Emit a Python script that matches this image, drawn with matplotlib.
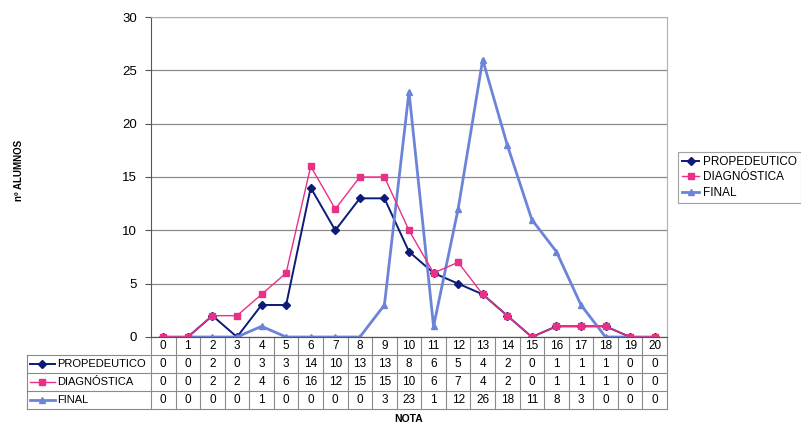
import numpy as np
import matplotlib
matplotlib.use('Agg')
import matplotlib.pyplot as plt
from matplotlib.lines import Line2D
from matplotlib.transforms import blended_transform_factory

plt.rcParams['font.family'] = ['Liberation Sans', 'DejaVu Sans']

notas = list(range(21))
propedeutico = [0, 0, 2, 0, 3, 3, 14, 10, 13, 13, 8, 6, 5, 4, 2, 0, 1, 1, 1, 0, 0]
diagnostica = [0, 0, 2, 2, 4, 6, 16, 12, 15, 15, 10, 6, 7, 4, 2, 0, 1, 1, 1, 0, 0]
final = [0, 0, 0, 0, 1, 0, 0, 0, 0, 3, 23, 1, 12, 26, 18, 11, 8, 3, 0, 0, 0]

series_names = ['PROPEDEUTICO', 'DIAGNÓSTICA', 'FINAL']
series_values = [propedeutico, diagnostica, final]
styles = [
    dict(color='#0c1a78', marker='D', markersize=4, linewidth=1.4),
    dict(color='#ec2f86', marker='s', markersize=5, linewidth=1.0),
    dict(color='#6c84d8', marker='^', markersize=4.5, linewidth=2.0),
]

fig = plt.figure(figsize=(8.01, 4.24), dpi=100)
ax = fig.add_axes([0.1885, 0.2052, 0.6442, 0.7547])

# lines, drawn so that pink sits over dark blue where they coincide
order = [0, 2, 1]
handles = {}
for k in order:
    h, = ax.plot(notas, series_values[k], label=series_names[k], **styles[k])
    handles[k] = h

ax.set_xlim(-0.5, 20.5)
ax.set_ylim(0, 30)
ax.set_yticks(range(0, 31, 5))
ax.set_xticks([])
ax.yaxis.grid(True, color='#8a8a8a', linewidth=0.9)
ax.set_axisbelow(True)
ax.tick_params(axis='y', labelsize=9.5, length=4, color='#555555', pad=6)
for side in ['top', 'right']:
    ax.spines[side].set_color('#b0b0b0')
    ax.spines[side].set_linewidth(0.8)
ax.spines['left'].set_color('#555555')
ax.spines['bottom'].set_color('#555555')

ax.set_ylabel('nº ALUMNOS', fontsize=7, fontweight='bold')
ax.yaxis.set_label_coords(-0.246, 0.52)

# data table below the axis
rh = 0.0565
tr = blended_transform_factory(ax.transData, ax.transAxes)
line_kw = dict(color='#8a8a8a', linewidth=0.8, clip_on=False)
label_left = -0.240

for j in range(5):
    y = -j * rh
    ax.plot([-0.5, 20.5], [y, y], transform=tr, **line_kw)
    if j >= 1:
        ax.plot([label_left, 0], [y, y], transform=ax.transAxes, **line_kw)
for i in range(22):
    ax.plot([i - 0.5, i - 0.5], [0, -4 * rh], transform=tr, **line_kw)
ax.plot([label_left, label_left], [-rh, -4 * rh], transform=ax.transAxes, **line_kw)

for i, n in enumerate(notas):
    ax.text(n, -0.5 * rh, str(n), transform=tr, ha='center', va='center', fontsize=8.5)
    for r, vals in enumerate(series_values):
        ax.text(n, -(r + 1.5) * rh, str(vals[i]), transform=tr,
                ha='center', va='center', fontsize=8.5)

for r, name in enumerate(series_names):
    yc = -(r + 1.5) * rh
    st = styles[r]
    ax.add_line(Line2D([-0.2345, -0.186], [yc, yc], transform=ax.transAxes,
                       color=st['color'], linewidth=st['linewidth'], clip_on=False))
    ax.add_line(Line2D([-0.2103], [yc], transform=ax.transAxes, color=st['color'],
                       marker=st['marker'], markersize=st['markersize'], clip_on=False))
    ax.text(-0.181, yc, name, transform=ax.transAxes, ha='left', va='center', fontsize=8)

ax.text(10, -4 * rh - 0.03, 'NOTA', transform=tr, ha='center', va='center',
        fontsize=7.5, fontweight='bold')

leg = fig.legend([handles[0], handles[1], handles[2]], series_names,
                 loc='upper left', bbox_to_anchor=(0.846, 0.642), fontsize=8.5,
                 frameon=True, fancybox=False, handlelength=1.5,
                 borderpad=0.35, labelspacing=0.3, handletextpad=0.3,
                 borderaxespad=0.0)
leg.get_frame().set_edgecolor('#8a8a8a')
leg.get_frame().set_linewidth(0.8)

fig.savefig('out.png', dpi=100)
